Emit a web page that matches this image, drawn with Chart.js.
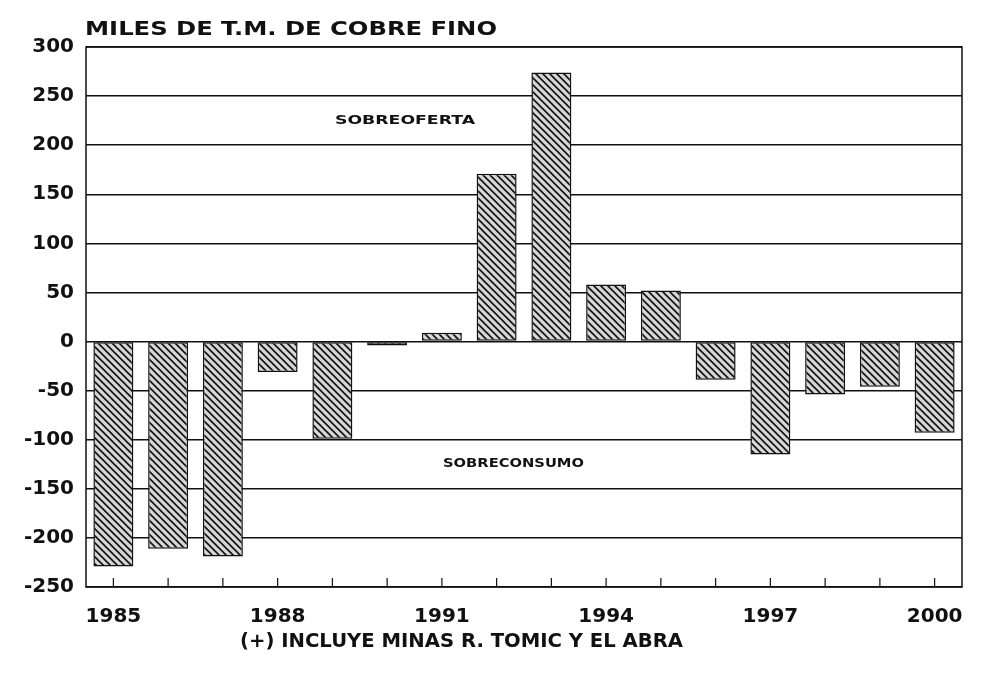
<!DOCTYPE html>
<html>
<head>
<meta charset="utf-8">
<script src="https://cdn.jsdelivr.net/npm/chart.js@4/dist/chart.umd.min.js"></script>
<style>
  body { margin: 0; background: #fff; }
  #wrap { width: 981px; height: 675px; }
</style>
</head>
<body>
<div id="wrap"><canvas id="myChart"></canvas></div>
<script>
// Years and balance (thousand t of fine copper)
const years = ['1985', '1986', '1987', '1988', '1989', '1990', '1991', '1992',
               '1993', '1994', '1995', '1996', '1997', '1998', '1999', '2000'];
const balance = [-229, -211, -219, -31, -99, -4, 9, 171,
                 274, 58, 52, -39, -115, -54, -46, -93];
const shownYears = ['1985', '1988', '1991', '1994', '1997', '2000'];

const FONT = '"DejaVu Sans", "Liberation Sans", sans-serif';

// diagonal hatch pattern like the old printout
function makeHatch() {
    const c = document.createElement('canvas');
    c.width = 7; c.height = 7;
    const g = c.getContext('2d');
    g.fillStyle = '#d6d6d6';
    g.fillRect(0, 0, 7, 7);
    g.strokeStyle = '#111';
    g.lineWidth = 1.6;
    g.beginPath();
    g.moveTo(-1, -1); g.lineTo(8, 8);
    g.moveTo(-8, -1); g.lineTo(1, 8);
    g.moveTo(6, -1); g.lineTo(15, 8);
    g.stroke();
    return g.createPattern(c, 'repeat');
}

// draw text stretched to a given width (the scan uses a wide typeface)
function wideText(ctx, txt, x, y, w) {
    const m = ctx.measureText(txt).width;
    ctx.save();
    ctx.translate(x, y);
    ctx.scale(w / m, 1);
    ctx.fillText(txt, 0, 0);
    ctx.restore();
}

const extras = {
    id: 'extras',
    afterDraw(chart) {
        const ctx = chart.ctx;
        const a = chart.chartArea;
        const x = chart.scales.x, y = chart.scales.y;
        ctx.save();
        // frame
        ctx.strokeStyle = '#111';
        ctx.lineWidth = 1.5;
        ctx.strokeRect(a.left, a.top, a.right - a.left, a.bottom - a.top);
        // small ticks pointing up from the bottom line
        ctx.lineWidth = 1.2;
        years.forEach((yr, i) => {
            const px = x.getPixelForValue(i);
            ctx.beginPath();
            ctx.moveTo(px, a.bottom);
            ctx.lineTo(px, a.bottom - 9);
            ctx.stroke();
        });
        ctx.fillStyle = '#111';
        ctx.textBaseline = 'middle';
        ctx.textAlign = 'left';
        ctx.font = 'bold 20px ' + FONT;
        wideText(ctx, 'MILES DE T.M. DE COBRE FINO', 85, 30, 412);
        ctx.font = 'bold 12px ' + FONT;
        wideText(ctx, 'SOBREOFERTA', 335, y.getPixelForValue(225), 140);
        wideText(ctx, 'SOBRECONSUMO', 443, y.getPixelForValue(-125), 141);
        ctx.font = 'bold 19px ' + FONT;
        wideText(ctx, '(+) INCLUYE MINAS R. TOMIC Y EL ABRA', 240, 642, 443);
        ctx.restore();
    }
};

const ctx = document.getElementById('myChart').getContext('2d');

const myChart = new Chart(ctx, {
    type: 'bar',
    data: {
        labels: years,
        datasets: [{
            data: balance,
            backgroundColor: makeHatch(),
            borderColor: '#111',
            borderWidth: 1.5,
            borderSkipped: false,
            categoryPercentage: 1,
            barPercentage: 0.73
        }]
    },
    options: {
        responsive: true,
        maintainAspectRatio: false,
        animation: false,
        layout: { padding: { top: 47, right: 19, left: 0, bottom: 0 } },
        plugins: {
            legend: { display: false },
            tooltip: { enabled: false }
        },
        scales: {
            x: {
                grid: { display: false },
                border: { display: false },
                afterFit(s) { s.height = 88; },
                ticks: {
                    autoSkip: false,
                    maxRotation: 0,
                    padding: 10,
                    color: '#111',
                    font: { family: FONT, size: 20, weight: 'bold' },
                    callback(v) {
                        const lab = years[v];
                        return shownYears.includes(lab) ? lab : '';
                    }
                }
            },
            y: {
                min: -250,
                max: 300,
                afterFit(s) { s.width = 86; },
                grid: { color: '#111', lineWidth: 1.4, drawTicks: false },
                border: { display: false },
                ticks: {
                    stepSize: 50,
                    padding: 12,
                    color: '#111',
                    font: { family: FONT, size: 20, weight: 'bold' }
                }
            }
        }
    },
    plugins: [extras]
});
</script>
</body>
</html>
